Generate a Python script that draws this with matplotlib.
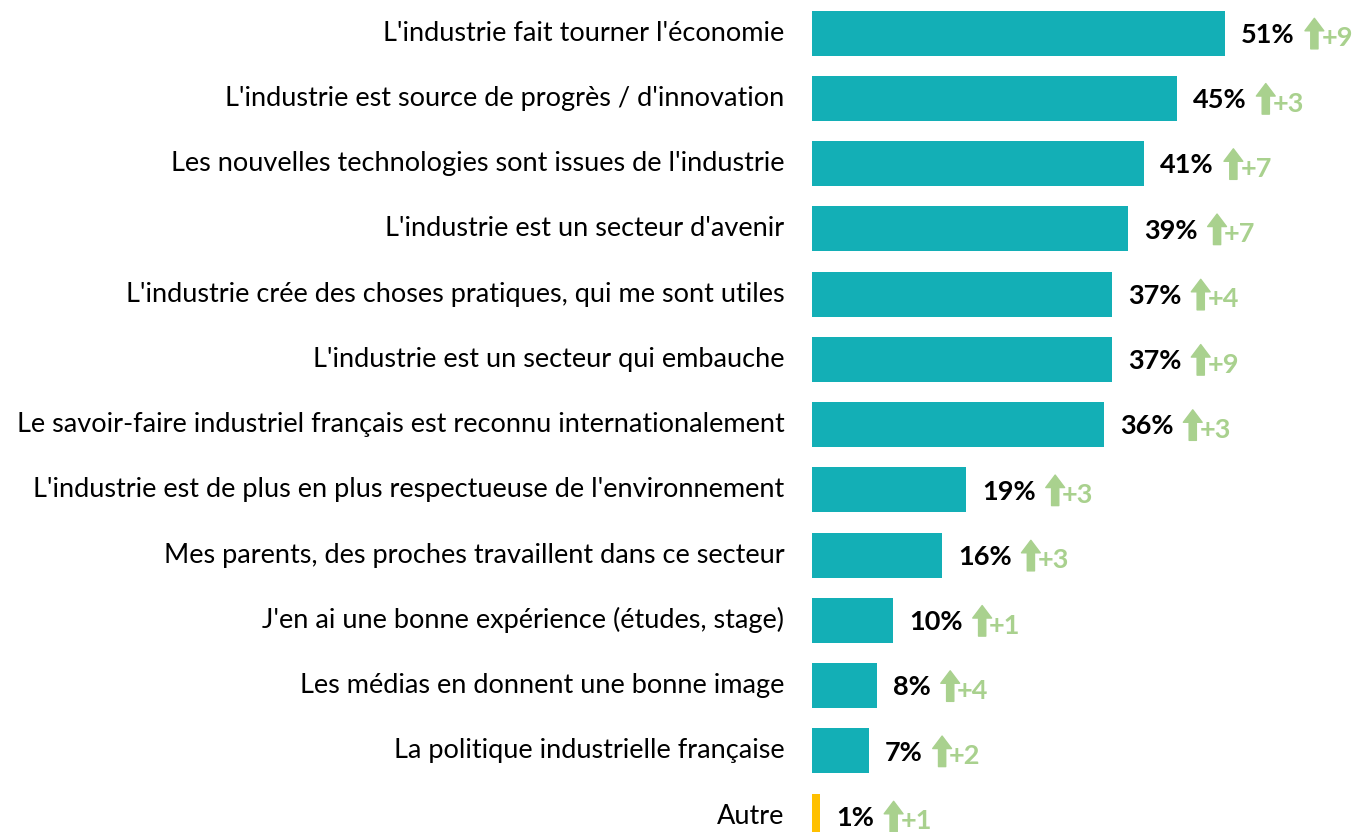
import matplotlib
matplotlib.use("Agg")
import matplotlib.pyplot as plt
from matplotlib.text import OffsetFrom

plt.rcParams['font.family'] = ['Lato', 'DejaVu Sans']

labels = [
    "L'industrie fait tourner l'économie",
    "L'industrie est source de progrès / d'innovation",
    "Les nouvelles technologies sont issues de l'industrie",
    "L'industrie est un secteur d'avenir",
    "L'industrie crée des choses pratiques, qui me sont utiles",
    "L'industrie est un secteur qui embauche",
    "Le savoir-faire industriel français est reconnu internationalement",
    "L'industrie est de plus en plus respectueuse de l'environnement",
    "Mes parents, des proches travaillent dans ce secteur",
    "J'en ai une bonne expérience (études, stage)",
    "Les médias en donnent une bonne image",
    "La politique industrielle française",
    "Autre",
]
values = [51, 45, 41, 39, 37, 37, 36, 19, 16, 10, 8, 7, 1]
deltas = [9, 3, 7, 7, 4, 9, 3, 3, 3, 1, 4, 2, 1]

TEAL = "#13AFB6"
YELLOW = "#FFC000"
GREEN = "#A9D18E"

fig = plt.figure(figsize=(13.62, 8.32), dpi=100)
ax = fig.add_axes([0, 0, 1, 1])

colors = [TEAL] * (len(values) - 1) + [YELLOW]
y = list(range(len(values)))
ax.barh(y, values, height=0.69, color=colors)

ax.set_xlim(-100.25, 67.9)
ax.set_ylim(12.245, -0.506)
ax.axis('off')

fs = 19.5
for i, (lab, v, d) in enumerate(zip(labels, values, deltas)):
    ax.text(-3.4, i, lab, ha='right', va='center', fontsize=fs, color='black')
    t = ax.text(v + 2.0, i + 0.03, f"{v}%", ha='left', va='center',
                fontsize=fs, fontweight='bold', color='black')
    off = OffsetFrom(t, (1, 0.5), unit='points')
    ax.annotate('', xy=(14, 12), xycoords=off, xytext=(14, -10), textcoords=off,
                arrowprops=dict(arrowstyle='simple,head_length=0.45,head_width=0.68,tail_width=0.26',
                                color=GREEN, shrinkA=0, shrinkB=0, mutation_scale=20))
    ax.annotate(f"+{d}", xy=(19, -2.5), xycoords=off, ha='left', va='center',
                fontsize=fs, fontweight='bold', color=GREEN)

fig.savefig("out.png", dpi=100)
